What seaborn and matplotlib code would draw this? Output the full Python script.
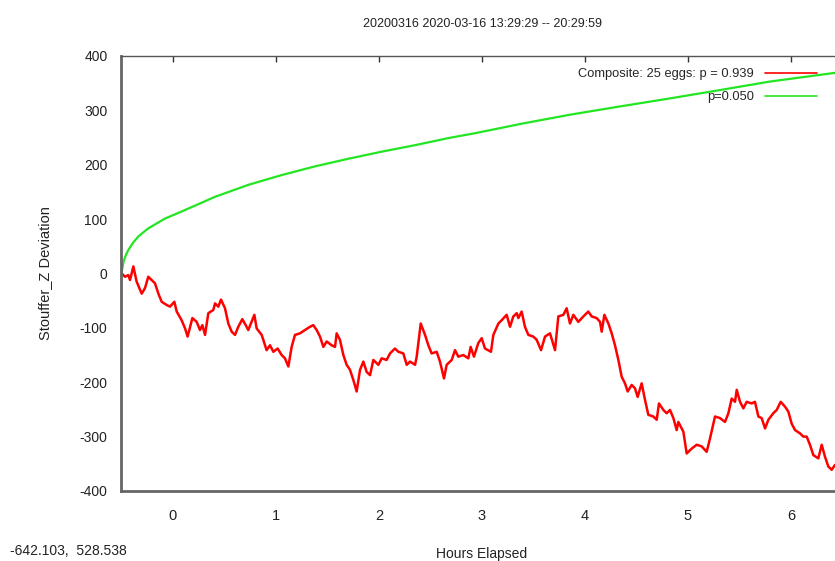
import matplotlib
matplotlib.use("Agg")
import matplotlib.pyplot as plt
import seaborn as sns
import pandas as pd

# ---- data ----
title_text = "20200316 2020-03-16 13:29:29 -- 20:29:59"
red_label = "Composite: 25 eggs: p = 0.939"
green_label = "p=0.050"

red_hours = [-0.498, -0.466, -0.434, -0.417, -0.385, -0.353, -0.320, -0.304, -0.272, -0.240,
             -0.207, -0.175, -0.142, -0.110, -0.061, -0.029, 0.013, 0.036, 0.084, 0.117,
             0.142, 0.188, 0.230, 0.262, 0.285, 0.311, 0.343, 0.392, 0.408, 0.440,
             0.466, 0.505, 0.537, 0.570, 0.602, 0.634, 0.673, 0.706, 0.731, 0.790,
             0.812, 0.861, 0.909, 0.942, 0.974, 1.016, 1.055, 1.087, 1.120, 1.152,
             1.184, 1.233, 1.330, 1.362, 1.395, 1.427, 1.460, 1.492, 1.540, 1.573,
             1.589, 1.621, 1.654, 1.686, 1.718, 1.751, 1.783, 1.816, 1.848, 1.880,
             1.913, 1.945, 1.994, 2.026, 2.074, 2.107, 2.155, 2.188, 2.236, 2.269,
             2.301, 2.350, 2.366, 2.405, 2.447, 2.479, 2.511, 2.560, 2.592, 2.631,
             2.657, 2.706, 2.738, 2.770, 2.819, 2.867, 2.890, 2.922, 2.964, 2.997,
             3.029, 3.087, 3.110, 3.159, 3.191, 3.239, 3.272, 3.304, 3.337, 3.353,
             3.385, 3.417, 3.450, 3.498, 3.531, 3.573, 3.612, 3.660, 3.709, 3.741,
             3.790, 3.822, 3.854, 3.887, 3.935, 3.984, 4.032, 4.065, 4.113, 4.146,
             4.162, 4.188, 4.227, 4.259, 4.291, 4.324, 4.356, 4.388, 4.414, 4.453,
             4.485, 4.511, 4.550, 4.583, 4.615, 4.663, 4.696, 4.718, 4.761, 4.793,
             4.825, 4.858, 4.890, 4.906, 4.955, 4.987, 5.036, 5.084, 5.133, 5.181,
             5.214, 5.262, 5.311, 5.359, 5.392, 5.424, 5.456, 5.473, 5.505, 5.537,
             5.570, 5.618, 5.650, 5.683, 5.715, 5.748, 5.780, 5.828, 5.861, 5.900,
             5.942, 5.974, 6.006, 6.039, 6.087, 6.120, 6.152, 6.184, 6.217, 6.265,
             6.298, 6.330, 6.362, 6.395, 6.427, 6.480]
red_values = [0, -6, -3, -12, 13, -15, -30, -37, -27, -6,
              -12, -18, -37, -52, -58, -61, -52, -70, -86, -101,
              -116, -82, -89, -104, -95, -113, -73, -67, -55, -61,
              -48, -64, -92, -107, -113, -98, -84, -95, -104, -76,
              -101, -113, -141, -132, -144, -138, -150, -156, -171, -135,
              -113, -110, -98, -95, -104, -116, -135, -125, -132, -135,
              -110, -122, -150, -168, -177, -196, -217, -177, -162, -181,
              -187, -159, -168, -156, -159, -147, -138, -144, -147, -168,
              -162, -168, -153, -92, -113, -132, -147, -144, -162, -193,
              -168, -159, -141, -153, -150, -156, -135, -153, -128, -119,
              -138, -144, -113, -92, -86, -76, -98, -79, -73, -82,
              -70, -98, -113, -116, -122, -141, -116, -110, -141, -79,
              -76, -64, -92, -76, -89, -79, -70, -79, -82, -89,
              -107, -76, -92, -110, -132, -159, -190, -202, -217, -205,
              -211, -227, -202, -233, -260, -263, -269, -239, -251, -257,
              -251, -266, -288, -273, -291, -331, -322, -315, -318, -328,
              -303, -263, -266, -273, -257, -230, -236, -214, -236, -248,
              -236, -239, -236, -263, -266, -285, -269, -257, -251, -236,
              -245, -254, -276, -288, -294, -300, -300, -315, -334, -340,
              -315, -337, -355, -361, -352, -368]

green_hours = [-0.500, -0.480, -0.455, -0.434, -0.390, -0.337, -0.240, -0.078, 0.084, 0.408,
               0.731, 1.055, 1.379, 1.702, 2.026, 2.350, 2.673, 2.932, 3.400, 3.854,
               4.300, 4.825, 5.300, 5.796, 6.427, 6.500]
green_values = [0, 22, 35, 43, 56, 68, 83, 101, 114, 141,
                163, 181, 197, 211, 224, 236, 249, 258, 276, 292,
                306, 322, 337, 353, 369, 371]

x_ticks = [0, 1, 2, 3, 4, 5, 6]
y_ticks = [-400, -300, -200, -100, 0, 100, 200, 300, 400]

# ---- plotting ----
sns.set_style("white")
plt.rcParams['font.family'] = ['Liberation Sans', 'DejaVu Sans']

fig = plt.figure(figsize=(8.35, 5.61), dpi=100)
ax = fig.add_axes([0.1455, 0.1248, 0.8635, 0.7754])

red_df = pd.DataFrame({"hours": red_hours, "dev": red_values})
green_df = pd.DataFrame({"hours": green_hours, "dev": green_values})

sns.lineplot(data=red_df, x="hours", y="dev", ax=ax, color="#ff0000", lw=1.8,
             sort=False, estimator=None, label=red_label)
sns.lineplot(data=green_df, x="hours", y="dev", ax=ax, color="#22e622", lw=1.6,
             sort=False, estimator=None, label=green_label)

ax.set_xlim(-0.5, 6.5)
ax.set_ylim(-400, 400)
ax.set_xticks(x_ticks)
ax.set_yticks(y_ticks)
ax.set_xticklabels([str(t) for t in x_ticks], fontsize=10.5, color="#222222")
ax.set_yticklabels([str(t) for t in y_ticks], fontsize=10, color="#222222")
ax.tick_params(axis="both", direction="in", length=4, width=1, color="#333333",
               top=True, right=True, pad=10)
ax.tick_params(axis="x", pad=13)

for side in ["left", "bottom"]:
    ax.spines[side].set_color("#666666")
    ax.spines[side].set_linewidth(2)
ax.spines["top"].set_color("#555555")
ax.spines["top"].set_linewidth(1)
ax.spines["right"].set_color("#555555")

ax.set_xlabel("Hours Elapsed", fontsize=10, color="#222222", labelpad=17)
ax.set_ylabel("Stouffer_Z Deviation", fontsize=10.5, color="#222222", labelpad=20)
ax.set_title(title_text, fontsize=9, color="#222222", pad=21)

leg = ax.legend(loc="upper right", bbox_to_anchor=(0.972, 0.984), borderaxespad=0,
                frameon=False, markerfirst=False, fontsize=9.3, handlelength=4.0,
                labelspacing=0.85, handletextpad=0.9)
for line in leg.get_lines():
    line.set_linewidth(1.2)

fig.text(10 / 835, 1 - 551 / 561, "-642.103,  528.538", fontsize=10,
         color="#222222", va="center", ha="left")

fig.savefig("out.png", dpi=100)
